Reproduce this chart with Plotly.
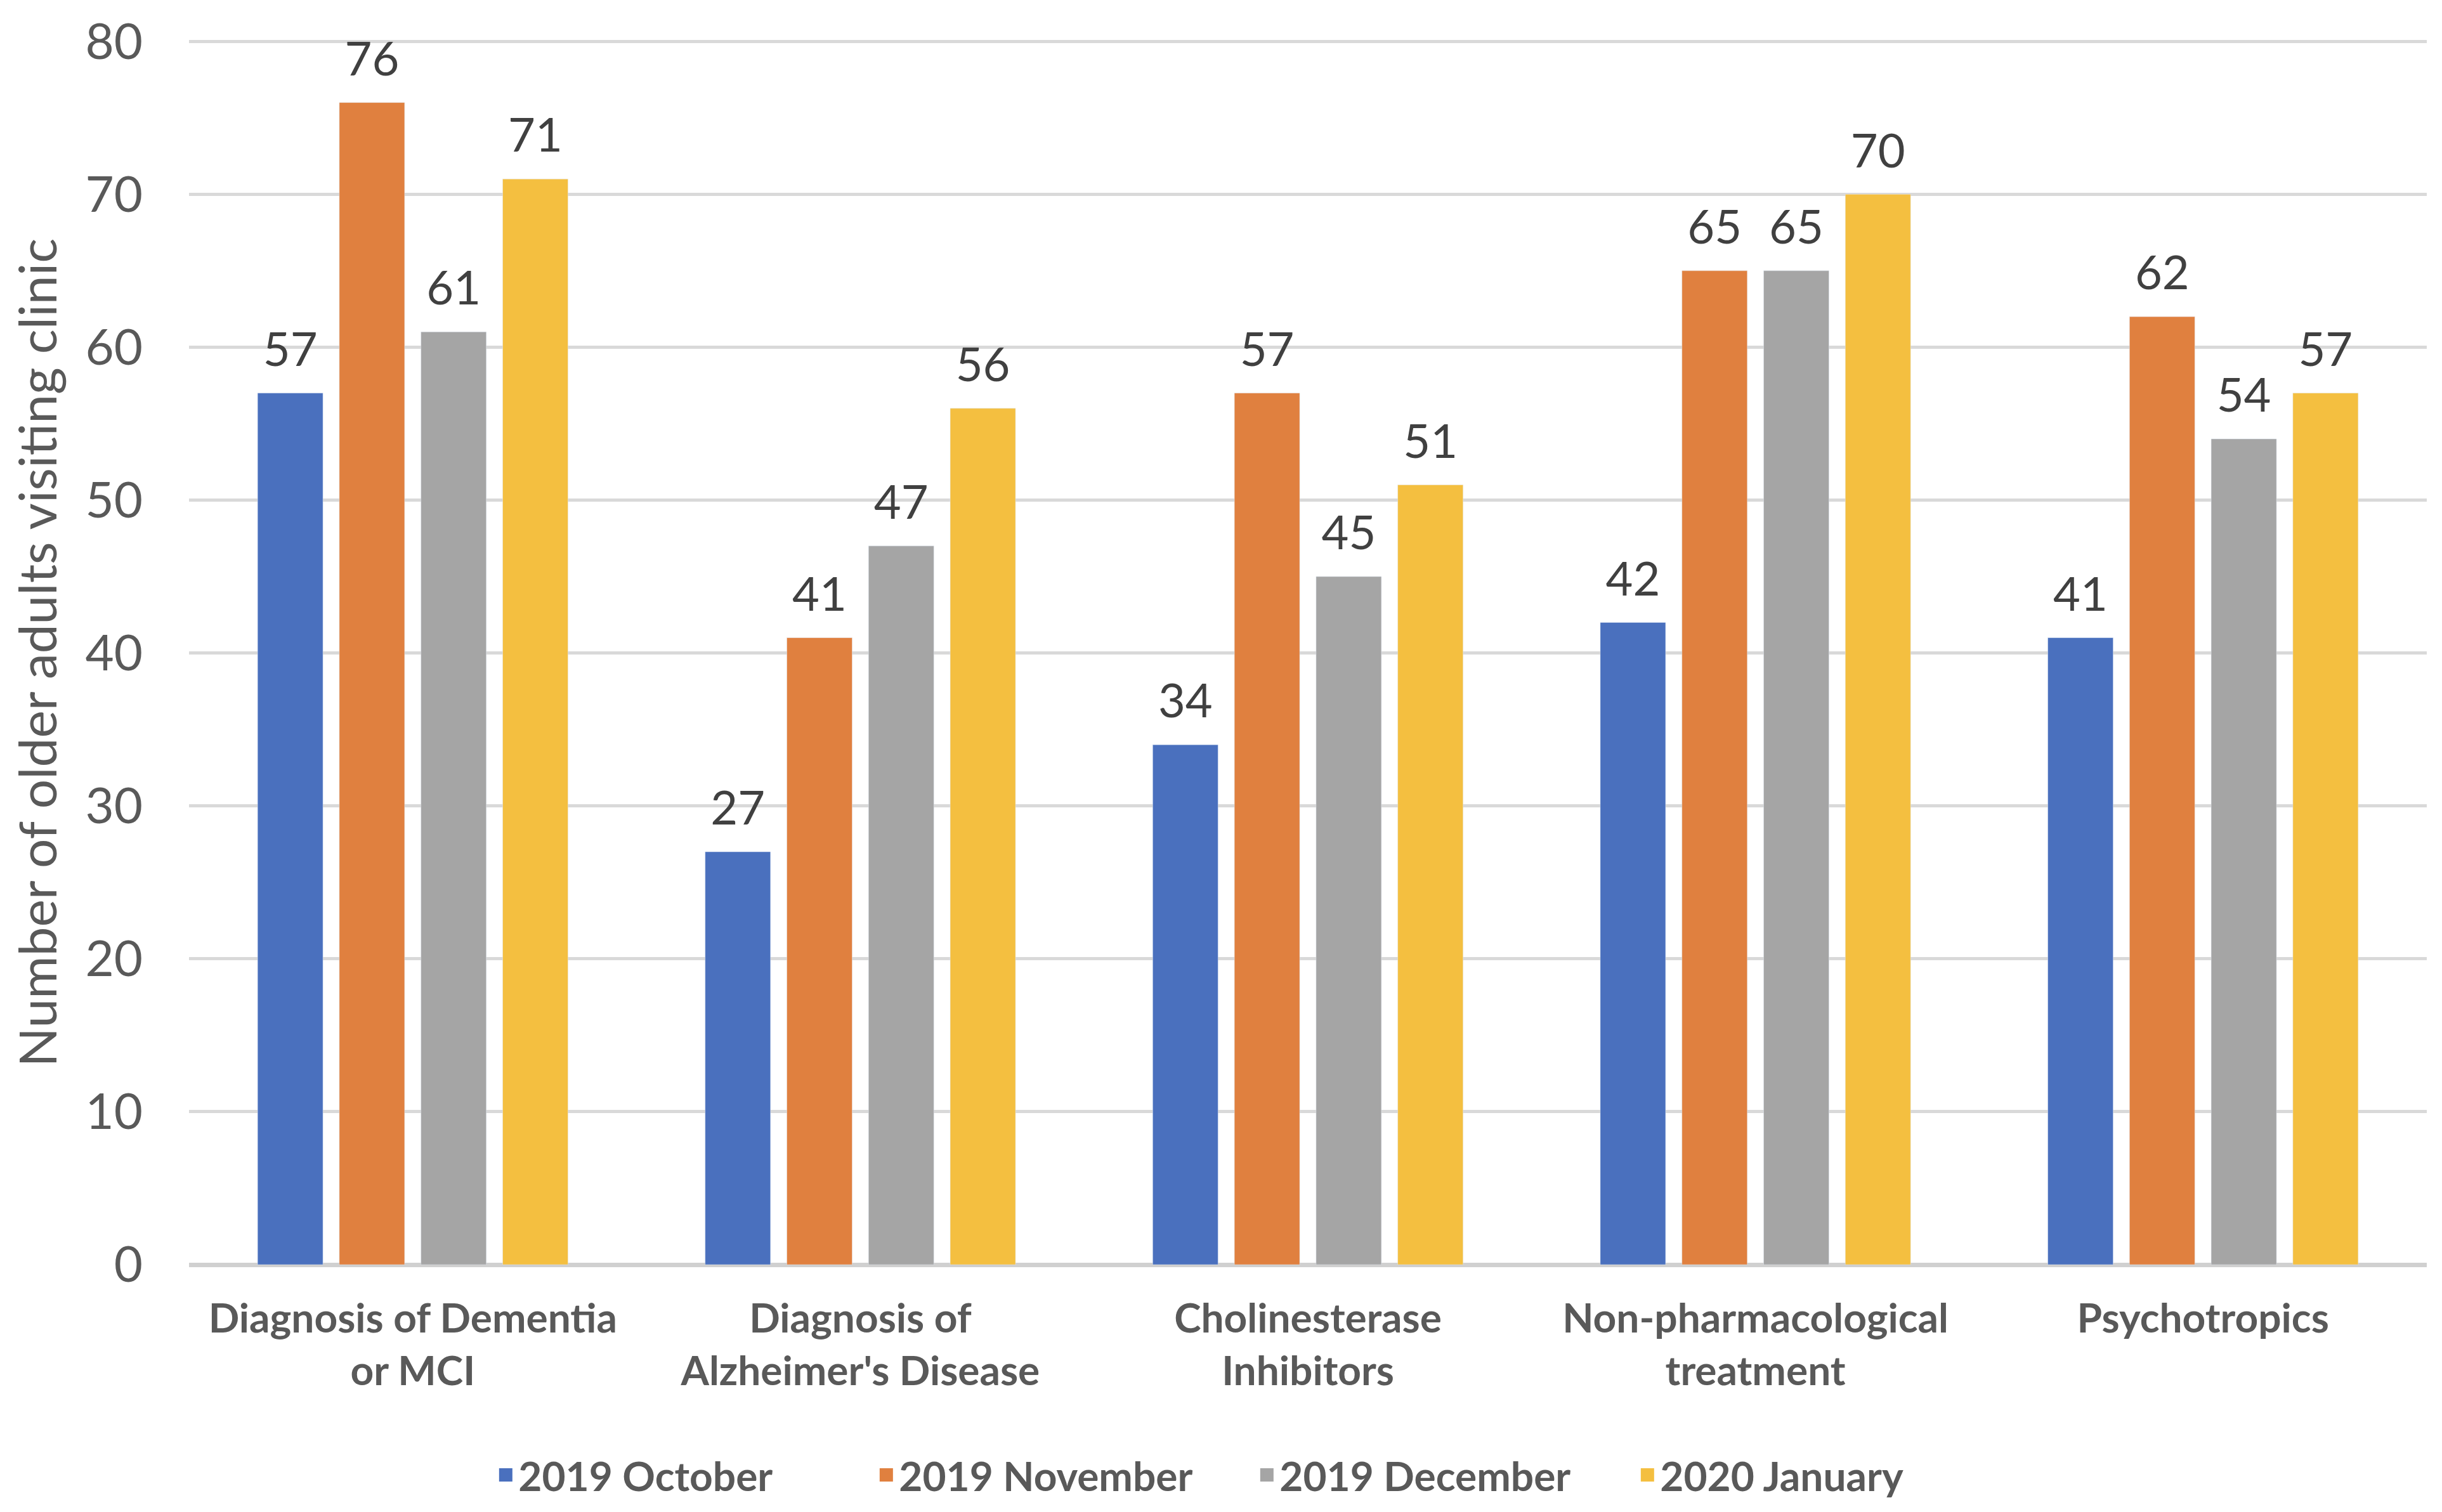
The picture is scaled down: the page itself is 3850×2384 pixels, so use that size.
import plotly.graph_objects as go

categories = ["Diagnosis of Dementia<br>or MCI", "Diagnosis of<br>Alzheimer's Disease",
              "Cholinesterase<br>Inhibitors", "Non-pharmacological<br>treatment", "Psychotropics"]
series_names = ["2019 October", "2019 November", "2019 December", "2020 January"]
oct_2019 = [57, 27, 34, 42, 41]
nov_2019 = [76, 41, 57, 65, 62]
dec_2019 = [61, 47, 45, 65, 54]
jan_2020 = [71, 56, 51, 70, 57]
y_ticks = [0, 10, 20, 30, 40, 50, 60, 70, 80]

colors = ["#4A70BE", "#E0803F", "#A5A5A5", "#F4BF40"]
values = [oct_2019, nov_2019, dec_2019, jan_2020]

fig = go.Figure()
for name, vals, col in zip(series_names, values, colors):
    # small trailing line lifts the value label a bit above the bar
    fig.add_trace(go.Bar(
        x=categories, y=vals, name=name, marker_color=col, showlegend=False,
        text=vals, texttemplate="<span style='font-size:74px'>%{text}</span><br> ",
        textposition="outside", cliponaxis=False, constraintext="none",
        textfont=dict(size=26, color="#404040", family="Lato"),
    ))
# legend-only entries so the swatches can be bigger than the default bar swatch
for name, col in zip(series_names, colors):
    fig.add_trace(go.Scatter(
        x=[None], y=[None], mode="markers", name=name,
        marker=dict(symbol="square", size=16, color=col, line=dict(color=col, width=5)),
    ))

fig.update_layout(
    width=3850, height=2384,
    margin=dict(l=290, r=32, t=56, b=398),
    plot_bgcolor="white", paper_bgcolor="white",
    barmode="group", bargap=0.27, bargroupgap=0.2,
    font=dict(family="Lato", color="#595959"),
    legend=dict(orientation="h", x=0.476, xanchor="center", y=-0.172, yanchor="middle",
                font=dict(size=64, color="#595959", family="Lato", weight="bold"),
                itemwidth=30, entrywidth=555, entrywidthmode="pixels"),
    showlegend=True,
)
fig.update_xaxes(
    tickfont=dict(size=64, color="#595959", family="Lato", weight="bold"),
    showline=False, ticks="", ticklabelstandoff=42, automargin=False,
)
fig.update_yaxes(
    range=[0, 80.05], tickvals=y_ticks, showgrid=True, gridcolor="#D9D9D9", gridwidth=5,
    zeroline=True, zerolinecolor="#D0D0D0", zerolinewidth=7,
    tickfont=dict(size=78, color="#595959", family="Lato"),
    ticklabelstandoff=72, automargin=False, ticklabeloverflow="allow",
    title=dict(text="Number of older adults visiting clinic",
               font=dict(size=82, color="#595959", family="Lato"), standoff=30),
)

fig.write_html("out.html")
